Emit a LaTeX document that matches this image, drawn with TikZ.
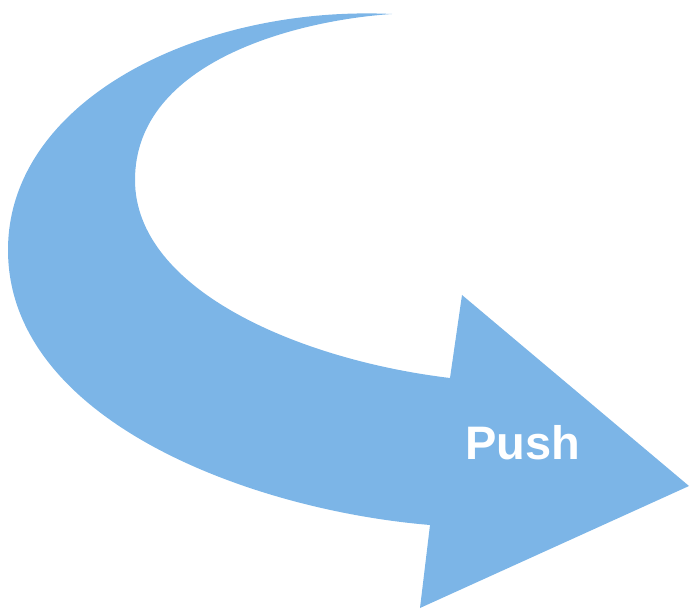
\documentclass[tikz,border=0pt]{standalone}
\usepackage{fontspec}
\usepackage{xcolor}
\usepackage{tikz}
\usetikzlibrary{positioning}
\newfontfamily\pushfont{Liberation Sans}
\definecolor{PushBlue}{HTML}{7CB5E7}

\begin{document}
\begin{tikzpicture}[x=1pt, y=-1pt,
  arrowbody/.style={fill=PushBlue, draw=none},
  lbl/.style={text=white, font=\pushfont\bfseries\fontsize{47}{50}\selectfont}]
\useasboundingbox (0,0) rectangle (690,609);
% arrow end points
\coordinate (tail) at (392,14);
\coordinate (outer) at (430,525);
\coordinate (lowbarb) at (420,608);
\coordinate (tip) at (689,486);
\coordinate (upbarb) at (462,295);
\coordinate (inner) at (450,378);
\path[arrowbody] (tail) .. controls (200,5) and (8,100) .. (8,250)
  .. controls (8,420) and (250,510) .. (outer)
  -- (lowbarb) -- (tip) -- (upbarb) -- (inner)
  .. controls (300,360) and (135,290) .. (135,180)
  .. controls (135,60) and (300,20) .. (tail) -- cycle;
\node[lbl] (push) at (523,443) {Push};
\end{tikzpicture}
\end{document}
